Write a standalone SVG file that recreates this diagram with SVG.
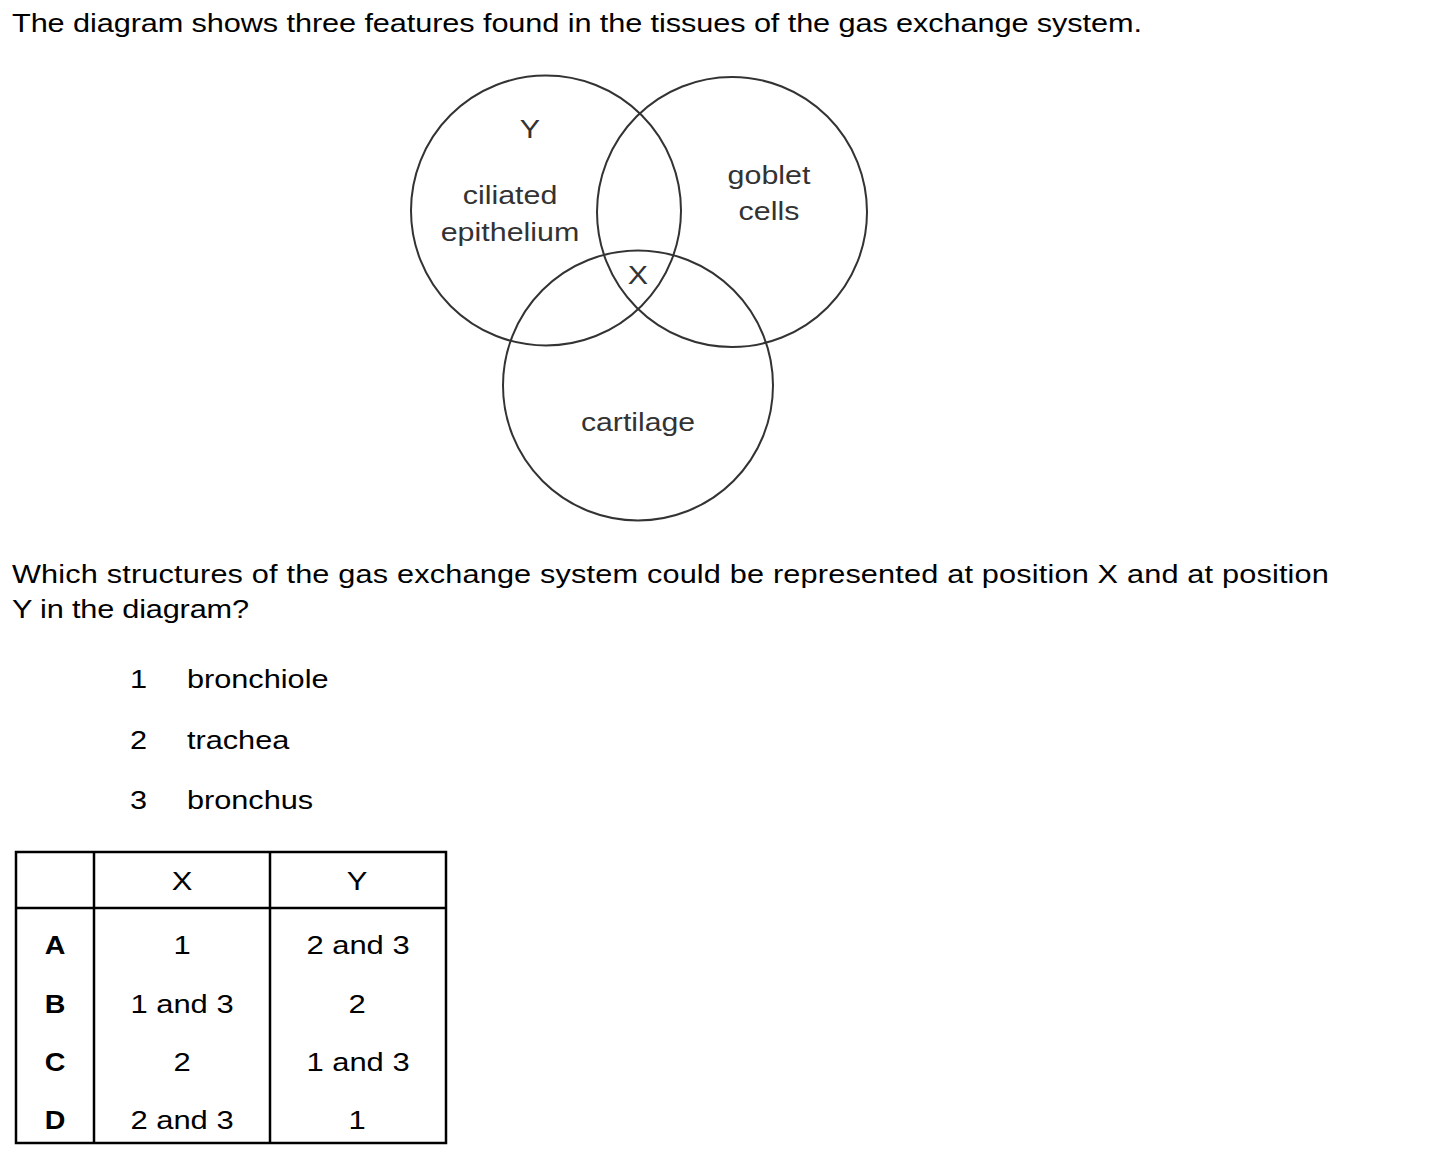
<svg xmlns="http://www.w3.org/2000/svg" width="1435" height="1161" viewBox="0 0 1435 1161">
<style>
.t{font-family:"Liberation Sans",Arial,sans-serif;font-size:26px;fill:#000}
.v{font-family:"Liberation Sans",Arial,sans-serif;font-size:26px;fill:#333;text-anchor:middle}
.c{font-family:"Liberation Sans",Arial,sans-serif;font-size:26px;fill:#000;text-anchor:middle}
.b{font-weight:bold}
.circ{fill:none;stroke:#333;stroke-width:2}
.ln{stroke:#000;stroke-width:2.5;fill:none}
</style>
<rect width="1435" height="1161" fill="#fff"/>
<text class="t" transform="translate(12,32) scale(1.18,1)" textLength="957.6" lengthAdjust="spacing">The diagram shows three features found in the tissues of the gas exchange system.</text>
<g id="venn">
<g id="circle-ciliated"><circle class="circ" cx="546" cy="210.5" r="135"/>
<text class="v" transform="translate(510,204) scale(1.17,1)">ciliated</text><text class="v" transform="translate(510,241) scale(1.17,1)">epithelium</text></g>
<g id="circle-goblet"><circle class="circ" cx="732" cy="212" r="135"/>
<text class="v" transform="translate(769,184) scale(1.17,1)">goblet</text><text class="v" transform="translate(769,220) scale(1.17,1)">cells</text></g>
<g id="circle-cartilage"><circle class="circ" cx="638" cy="385.5" r="135"/>
<text class="v" transform="translate(638,431) scale(1.16,1)">cartilage</text></g>
<g id="label-Y"><text class="v" transform="translate(530,138) scale(1.17,1)">Y</text></g>
<g id="label-X"><text class="v" transform="translate(638,284) scale(1.17,1)">X</text></g>
</g>
<text class="t" transform="translate(12,583) scale(1.18,1)" textLength="1116" lengthAdjust="spacing">Which structures of the gas exchange system could be represented at position X and at position</text>
<text class="t" transform="translate(12,618) scale(1.18,1)" textLength="200.8" lengthAdjust="spacing">Y in the diagram?</text>
<text class="t" transform="translate(130,688) scale(1.18,1)">1</text><text class="t" transform="translate(187,688) scale(1.18,1)">bronchiole</text>
<text class="t" transform="translate(130,749) scale(1.18,1)">2</text><text class="t" transform="translate(187,749) scale(1.18,1)">trachea</text>
<text class="t" transform="translate(130,809) scale(1.18,1)">3</text><text class="t" transform="translate(187,809) scale(1.18,1)">bronchus</text>
<g id="table">
<rect class="ln" x="16" y="852" width="430" height="291"/>
<line class="ln" x1="94" y1="852" x2="94" y2="1143"/>
<line class="ln" x1="270" y1="852" x2="270" y2="1143"/>
<line class="ln" x1="16" y1="908" x2="446" y2="908"/>
<text class="c" transform="translate(182,890) scale(1.19,1)">X</text><text class="c" transform="translate(357,890) scale(1.19,1)">Y</text>
<text class="c b" transform="translate(55,954) scale(1.1,1)">A</text><text class="c" transform="translate(182,954) scale(1.19,1)">1</text><text class="c" transform="translate(358,954) scale(1.19,1)">2 and 3</text>
<text class="c b" transform="translate(55,1013) scale(1.1,1)">B</text><text class="c" transform="translate(182,1013) scale(1.19,1)">1 and 3</text><text class="c" transform="translate(357,1013) scale(1.19,1)">2</text>
<text class="c b" transform="translate(55,1071) scale(1.1,1)">C</text><text class="c" transform="translate(182,1071) scale(1.19,1)">2</text><text class="c" transform="translate(358,1071) scale(1.19,1)">1 and 3</text>
<text class="c b" transform="translate(55,1129) scale(1.1,1)">D</text><text class="c" transform="translate(182,1129) scale(1.19,1)">2 and 3</text><text class="c" transform="translate(357,1129) scale(1.19,1)">1</text>
</g>
</svg>
